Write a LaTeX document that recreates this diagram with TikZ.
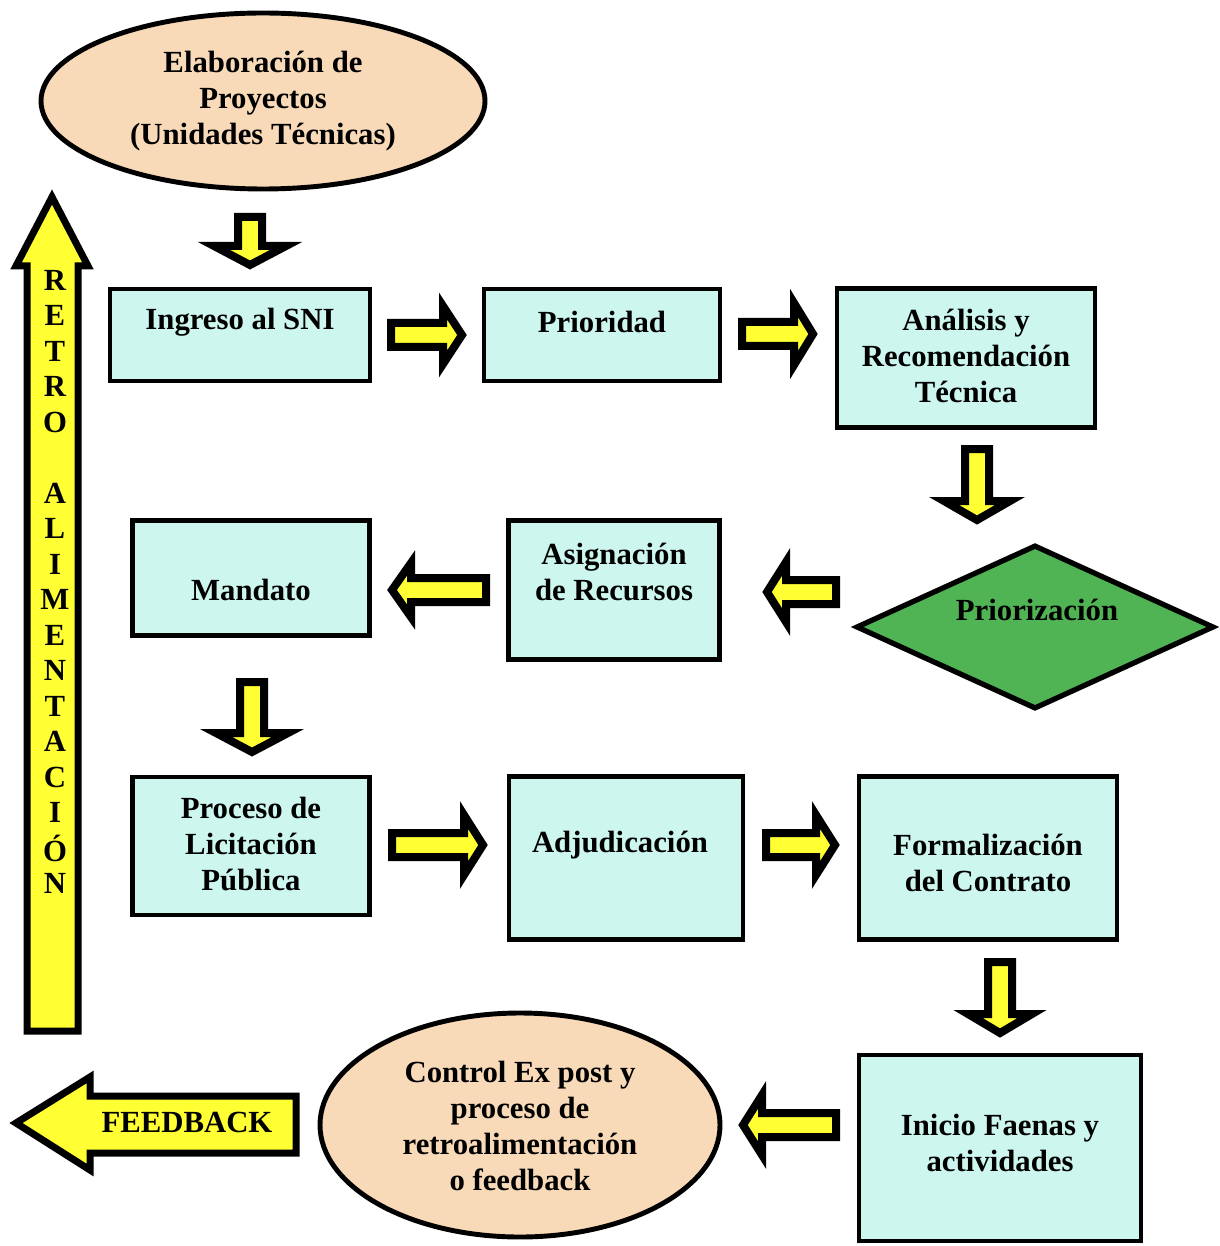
\documentclass[tikz,border=0pt]{standalone}
\usepackage{fontspec}
\setmainfont{Liberation Serif}
\usetikzlibrary{shapes.geometric}
\definecolor{boxfill}{HTML}{CCF6EE}
\definecolor{peach}{HTML}{F8DAB9}
\definecolor{dgreen}{HTML}{50B455}
\definecolor{ayellow}{HTML}{FFFF33}
\newdimen\pxu \pxu=0.02cm
\newcommand\blockarrow[5]{% tail x, tail y, rotation, length, outer head half-width
  \draw[barr, shift={(#1,#2)}, rotate=#3] (4,-12) -- ({#4-24},-12) -- ({#4-24},{-(#5-4)}) -- ({#4-5},0) -- ({#4-24},{#5-4}) -- ({#4-24},12) -- (4,12) -- cycle;}
\begin{document}
\begin{tikzpicture}[x=0.02cm,y=-0.02cm,
  txt/.style={font=\fontsize{17.5}{20.5}\selectfont\bfseries, align=center, inner sep=0pt},
  box/.style={draw=black, line width=2.4pt, fill=boxfill, rectangle, inner sep=0pt},
  ell/.style={draw=black, line width=2.8pt, fill=peach, ellipse, inner sep=0pt},
  dia/.style={draw=black, line width=3pt, fill=dgreen, diamond, inner sep=0pt},
  barr/.style={draw=black, line width=8\pxu, fill=ayellow, line join=miter},
  bigarr/.style={draw=black, line width=7\pxu, fill=ayellow, line join=miter}]
\useasboundingbox (0,0) rectangle (1219,1246);

% top ellipse
\node[ell, minimum width=444\pxu, minimum height=176\pxu] (elab) at (263,101) {};
\node[txt] (elab-t) at (263,101) {Elaboración de\\Proyectos\\(Unidades Técnicas)};

% boxes
\node[box, minimum width=260\pxu, minimum height=92\pxu] (ingreso) at (240,335) {};
\node[txt] (ingreso-t) at (240,322) {Ingreso al SNI};
\node[box, minimum width=236\pxu, minimum height=92\pxu] (prioridad) at (602,335) {};
\node[txt] (prioridad-t) at (602,322) {Prioridad};
\node[box, minimum width=258\pxu, minimum height=139\pxu] (analisis) at (966,358) {};
\node[txt] (analisis-t) at (966,356) {Análisis y\\Recomendación\\Técnica};

\node[dia, minimum width=358\pxu, minimum height=164\pxu] (prior) at (1035,627) {};
\node[txt] (prior-t) at (1037,610) {Priorización};

\node[box, minimum width=211\pxu, minimum height=139\pxu] (asig) at (614,590) {};
\node[txt] (asig-t) at (614,572) {Asignación\\de Recursos};
\node[box, minimum width=237\pxu, minimum height=115\pxu] (mandato) at (251,578) {};
\node[txt] (mandato-t) at (251,590) {Mandato};

\node[box, minimum width=237\pxu, minimum height=138\pxu] (proceso) at (251,846) {};
\node[txt] (proceso-t) at (251,844) {Proceso de\\Licitación\\Pública};
\node[box, minimum width=234\pxu, minimum height=163\pxu] (adj) at (626,858) {};
\node[txt] (adj-t) at (620,845) {Adjudicación};
\node[box, minimum width=258\pxu, minimum height=163\pxu] (form) at (988,858) {};
\node[txt] (form-t) at (988,863) {Formalización\\del Contrato};

\node[box, minimum width=282\pxu, minimum height=186\pxu] (inicio) at (1000,1148) {};
\node[txt] (inicio-t) at (1000,1143) {Inicio Faenas y\\actividades};
\node[ell, minimum width=400\pxu, minimum height=224\pxu] (control) at (520,1125) {};
\node[txt] (control-t) at (520,1126) {Control Ex post y\\proceso de\\retroalimentación\\o feedback};

% block arrows
\blockarrow{250}{213}{-90}{57}{40}
\blockarrow{387}{335}{0}{80}{33}
\blockarrow{738}{334}{0}{80}{35}
\blockarrow{977}{445}{-90}{80}{37}
\blockarrow{840}{592}{180}{78}{34}
\blockarrow{490}{590}{180}{103}{31}
\blockarrow{252}{678}{-90}{79}{40}
\blockarrow{388}{845}{0}{100}{34}
\blockarrow{762}{845}{0}{78}{34}
\blockarrow{1000}{958}{-90}{80}{36}
\blockarrow{840}{1125}{180}{102}{34}

% big vertical arrow
\draw[bigarr] (27,1031) -- (27,266) -- (16,266) -- (52,197) -- (88,266) -- (78,266) -- (78,1031) -- cycle;
\foreach \l [count=\i] in {R,E,T,R,O,{},A,L,I,M,E,N,T,A,C,I,Ó,N}
  \node[txt] (v\i) at (55,{280+35.5*(\i-1)}) {\l};

% FEEDBACK arrow
\draw[bigarr] (296,1096) -- (90,1096) -- (90,1077) -- (16,1123) -- (90,1170) -- (90,1153) -- (296,1153) -- cycle;
\node[txt] (fb) at (187,1122) {FEEDBACK};
\end{tikzpicture}
\end{document}
